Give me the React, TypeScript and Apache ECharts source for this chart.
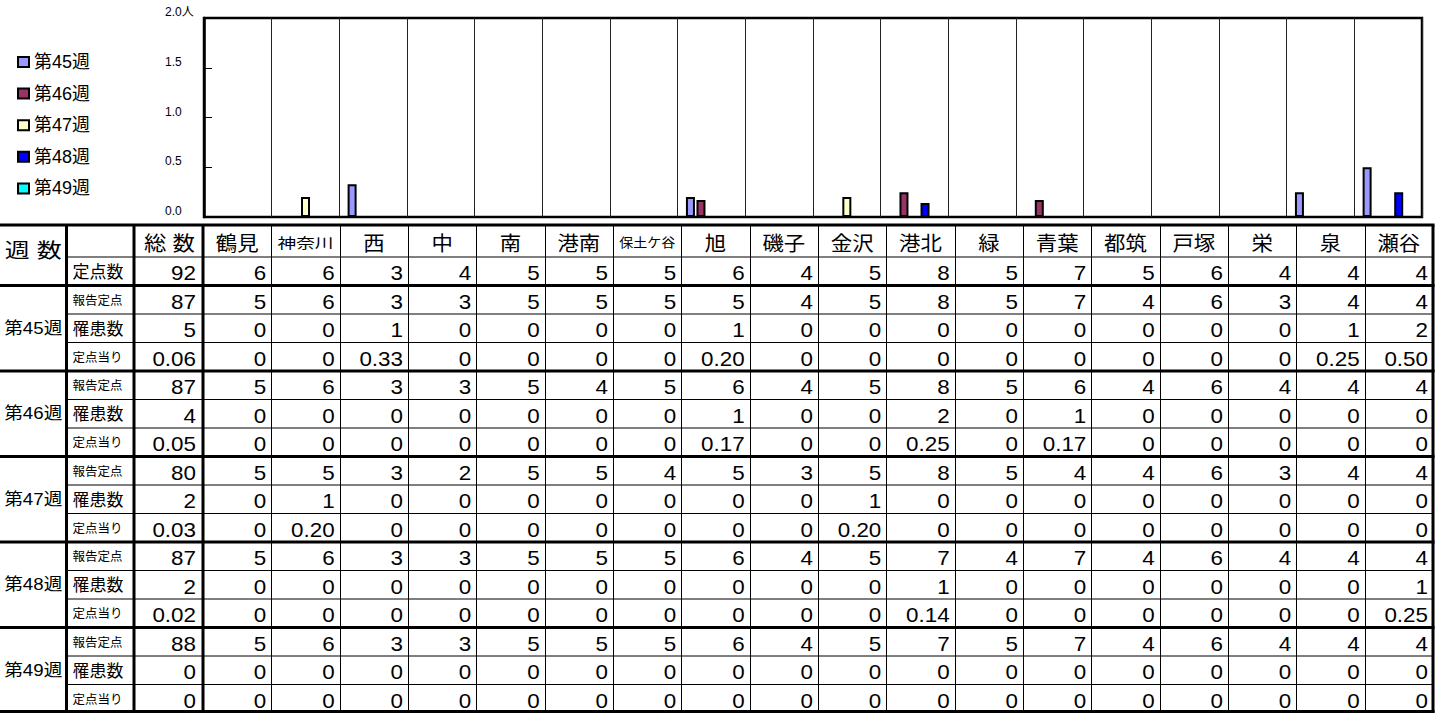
import React, { useEffect, useRef } from 'react';
import * as echarts from 'echarts';

// ---------- data ----------
const districts = ['鶴見', '神奈川', '西', '中', '南', '港南', '保土ケ谷', '旭', '磯子', '金沢', '港北', '緑', '青葉', '都筑', '戸塚', '栄', '泉', '瀬谷'];
const weekNames = ['第45週', '第46週', '第47週', '第48週', '第49週'];
const weekColors = ['#9999FF', '#993366', '#FFFFCC', '#0000FF', '#00FFFF'];
const yTickLabels = ['0.0', '0.5', '1.0', '1.5', '2.0人'];

const siteCount = [6, 6, 3, 4, 5, 5, 5, 6, 4, 5, 8, 5, 7, 5, 6, 4, 4, 4];
const siteCountTotal = 92;

const reported45 = [5, 6, 3, 3, 5, 5, 5, 5, 4, 5, 8, 5, 7, 4, 6, 3, 4, 4];
const cases45 = [0, 0, 1, 0, 0, 0, 0, 1, 0, 0, 0, 0, 0, 0, 0, 0, 1, 2];
const perSite45 = [0, 0, 0.33, 0, 0, 0, 0, 0.2, 0, 0, 0, 0, 0, 0, 0, 0, 0.25, 0.5];

const reported46 = [5, 6, 3, 3, 5, 4, 5, 6, 4, 5, 8, 5, 6, 4, 6, 4, 4, 4];
const cases46 = [0, 0, 0, 0, 0, 0, 0, 1, 0, 0, 2, 0, 1, 0, 0, 0, 0, 0];
const perSite46 = [0, 0, 0, 0, 0, 0, 0, 0.17, 0, 0, 0.25, 0, 0.17, 0, 0, 0, 0, 0];

const reported47 = [5, 5, 3, 2, 5, 5, 4, 5, 3, 5, 8, 5, 4, 4, 6, 3, 4, 4];
const cases47 = [0, 1, 0, 0, 0, 0, 0, 0, 0, 1, 0, 0, 0, 0, 0, 0, 0, 0];
const perSite47 = [0, 0.2, 0, 0, 0, 0, 0, 0, 0, 0.2, 0, 0, 0, 0, 0, 0, 0, 0];

const reported48 = [5, 6, 3, 3, 5, 5, 5, 6, 4, 5, 7, 4, 7, 4, 6, 4, 4, 4];
const cases48 = [0, 0, 0, 0, 0, 0, 0, 0, 0, 0, 1, 0, 0, 0, 0, 0, 0, 1];
const perSite48 = [0, 0, 0, 0, 0, 0, 0, 0, 0, 0, 0.14, 0, 0, 0, 0, 0, 0, 0.25];

const reported49 = [5, 6, 3, 3, 5, 5, 5, 6, 4, 5, 7, 5, 7, 4, 6, 4, 4, 4];
const cases49 = [0, 0, 0, 0, 0, 0, 0, 0, 0, 0, 0, 0, 0, 0, 0, 0, 0, 0];
const perSite49 = [0, 0, 0, 0, 0, 0, 0, 0, 0, 0, 0, 0, 0, 0, 0, 0, 0, 0];

const totalReported = [87, 87, 80, 87, 88];
const totalCases = [5, 4, 2, 2, 0];
const totalPerSite = [0.06, 0.05, 0.03, 0.02, 0];

const rowLabels = ['報告定点', '罹患数', '定点当り'];

const reportedByWeek = [reported45, reported46, reported47, reported48, reported49];
const casesByWeek = [cases45, cases46, cases47, cases48, cases49];
const perSiteByWeek = [perSite45, perSite46, perSite47, perSite48, perSite49];

// ---------- layout ----------
const W = 1437;
const H = 713;
const FONT = "'Liberation Sans', Arial, 'Noto Sans CJK JP', sans-serif";
const TABLE_TOP = 225;
const HEADER_BOTTOM = 257;
const ROW_H = 28.5;
const COL_WEEK = [0, 66.5];
const COL_LABEL = [66.5, 134];
const COL_TOTAL = [134, 203];
const DIST_LEFT = 203;
const DIST_RIGHT = 1433;
const DIST_W = (DIST_RIGHT - DIST_LEFT) / districts.length;
const rowTop = (r: number) => HEADER_BOTTOM + r * ROW_H;
const BOTTOM = 711.5;

const fmtRate = (v: number) => (v === 0 ? '0' : v.toFixed(2));

function txt(text: string, x: number, y: number, size: number, align: string, scaleX = 1) {
  return {
    type: 'text',
    x,
    y,
    scaleX,
    silent: true,
    z: 20,
    style: {
      text,
      fontSize: size,
      fontFamily: FONT,
      fill: '#000',
      align,
      verticalAlign: 'middle',
      textAlign: align,
      textVerticalAlign: 'middle',
    },
  };
}

function ln(x1: number, y1: number, x2: number, y2: number, w: number) {
  return {
    type: 'line',
    silent: true,
    z: 15,
    shape: { x1, y1, x2, y2 },
    style: { stroke: '#000', lineWidth: w },
  };
}

function buildTable() {
  const els: any[] = [];
  // horizontal lines
  els.push(ln(0, TABLE_TOP, DIST_RIGHT + 1.5, TABLE_TOP, 3));
  els.push(ln(COL_LABEL[0], HEADER_BOTTOM, DIST_RIGHT, HEADER_BOTTOM, 1));
  for (let r = 1; r <= 16; r++) {
    const y = r === 16 ? BOTTOM : rowTop(r);
    const thick = (r - 1) % 3 === 0;
    if (thick) els.push(ln(0, y, DIST_RIGHT + 1.5, y, 3));
    else els.push(ln(COL_LABEL[0], y, DIST_RIGHT, y, 1));
  }
  // vertical lines
  [COL_WEEK[1], COL_LABEL[1], COL_TOTAL[1], DIST_RIGHT].forEach((x) => els.push(ln(x, TABLE_TOP, x, BOTTOM + 1.5, 3)));
  for (let i = 1; i < districts.length; i++) {
    const x = Math.round(DIST_LEFT + i * DIST_W) + 0.5;
    els.push(ln(x, TABLE_TOP, x, BOTTOM, 1));
  }

  // header
  const hy = 244;
  els.push(txt('週 数', (COL_WEEK[0] + COL_WEEK[1]) / 2, 251, 20, 'center', 1.25));
  els.push(txt('総 数', (COL_TOTAL[0] + COL_TOTAL[1]) / 2 + 1, hy, 20, 'center', 1.12));
  districts.forEach((d, i) => {
    const cx = DIST_LEFT + (i + 0.5) * DIST_W;
    if (d.length >= 3) {
      const size = d.length >= 4 ? 13 : 13.5;
      els.push(txt(d, cx, hy - 1, size, 'center', 56 / (d.length * size)));
    } else {
      els.push(txt(d, cx, hy, 20, 'center', 1.07));
    }
  });

  // number cell helper
  const numCell = (text: string, colRight: number, r: number, pad: number) =>
    txt(text, colRight - pad, rowTop(r) + 16, 20, 'right', 1.12);

  // 定点数 row
  els.push(txt('定点数', COL_LABEL[0] + 6, rowTop(0) + 15, 17, 'left'));
  els.push(numCell(String(siteCountTotal), COL_TOTAL[1], 0, 7));
  siteCount.forEach((v, i) => els.push(numCell(String(v), DIST_LEFT + (i + 1) * DIST_W, 0, 5)));

  // week groups
  weekNames.forEach((wk, g) => {
    const r0 = 1 + g * 3;
    const cy = (rowTop(r0) + rowTop(r0 + 3)) / 2;
    els.push(txt(wk, (COL_WEEK[0] + COL_WEEK[1]) / 2, cy, 17, 'center', 1.1));
    const rows = [
      { total: String(totalReported[g]), vals: reportedByWeek[g].map(String) },
      { total: String(totalCases[g]), vals: casesByWeek[g].map(String) },
      { total: fmtRate(totalPerSite[g]), vals: perSiteByWeek[g].map(fmtRate) },
    ];
    rows.forEach((row, k) => {
      const r = r0 + k;
      const small = k !== 1;
      els.push(txt(rowLabels[k], COL_LABEL[0] + 6, rowTop(r) + 15, small ? 12.5 : 17, 'left'));
      els.push(numCell(row.total, COL_TOTAL[1], r, 7));
      row.vals.forEach((t, i) => els.push(numCell(t, DIST_LEFT + (i + 1) * DIST_W, r, 5)));
    });
  });
  return els;
}

export default function App() {
  const ref = useRef<HTMLDivElement>(null);

  useEffect(() => {
    if (!ref.current) return;
    const chart = echarts.init(ref.current, undefined, { renderer: 'svg' });
    const option: any = {
      animation: false,
      backgroundColor: '#fff',
      textStyle: { fontFamily: FONT },
      legend: {
        orient: 'vertical',
        left: 12,
        top: 47,
        itemWidth: 11,
        itemHeight: 10,
        itemGap: 11.6,
        icon: 'rect',
        data: weekNames,
        textStyle: { fontSize: 18, fontFamily: FONT, color: '#000', lineHeight: 20 },
        itemStyle: { borderColor: '#000', borderWidth: 2 },
      },
      grid: {
        left: 204,
        right: W - 1422,
        top: 18,
        bottom: H - 217,
        show: true,
        borderColor: '#000',
        borderWidth: 2.5,
        containLabel: false,
      },
      xAxis: {
        type: 'category',
        data: districts,
        axisLabel: { show: false },
        axisTick: { show: false },
        axisLine: { show: false },
        splitLine: { show: true, interval: 0, lineStyle: { color: '#222', width: 1 } },
      },
      yAxis: {
        type: 'value',
        min: 0,
        max: 2,
        interval: 0.5,
        axisLine: { show: true, lineStyle: { color: '#000', width: 2.5 } },
        axisTick: { show: true, inside: true, length: 8, lineStyle: { color: '#000', width: 1 } },
        splitLine: { show: false },
        axisLabel: {
          margin: 39,
          align: 'left',
          verticalAlign: 'bottom',
          fontSize: 12,
          color: '#000',
          fontFamily: FONT,
          formatter: (v: number) => yTickLabels[Math.round(v / 0.5)] ?? String(v),
        },
      },
      series: weekNames.map((name, i) => ({
        type: 'bar',
        name,
        data: perSiteByWeek[i].map((v) => (v === 0 ? null : v)),
        barWidth: 9,
        barGap: '17%',
        itemStyle: { color: weekColors[i], borderColor: '#000', borderWidth: 2 },
      })),
      graphic: { elements: buildTable() },
    };
    chart.setOption(option);
    return () => chart.dispose();
  }, []);

  return (
    <div
      ref={ref}
      style={{ position: 'absolute', left: 0, top: 0, width: W, height: H, background: '#fff' }}
    />
  );
}
